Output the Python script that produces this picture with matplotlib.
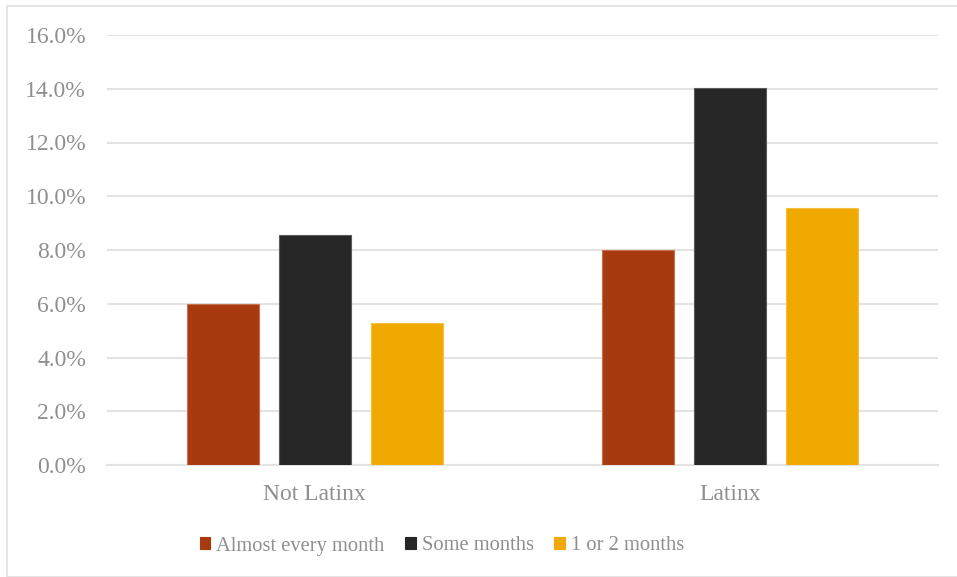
import matplotlib.pyplot as plt
import numpy as np
from matplotlib.patches import Rectangle

groups = ["Not Latinx", "Latinx"]
series = ["Almost every month", "Some months", "1 or 2 months"]
almost_every_month = [6.0, 8.0]
some_months = [8.57, 14.03]
one_or_two_months = [5.3, 9.56]

colors = ["#A83A0F", "#262626", "#F0A900"]
edge_colors = ["#C8704F", "#5A5A5A", "#F5C040"]
text_gray = "#8F8F8F"
grid_gray = "#E3E3E3"

plt.rcParams['font.family'] = ['Liberation Serif', 'DejaVu Serif']

fig = plt.figure(figsize=(9.57, 5.77), dpi=100)
ax = fig.add_axes([107 / 957, 112 / 577, 831 / 957, 430 / 577])

x = np.arange(len(groups))
width = 0.173
offset = 0.221
values = [almost_every_month, some_months, one_or_two_months]
for i, vals in enumerate(values):
    ax.bar(x + (i - 1) * offset, vals, width, color=colors[i],
           edgecolor=edge_colors[i], linewidth=0.8, label=series[i], zorder=3)

ax.set_xlim(-0.5, 1.5)
ax.set_ylim(0, 16)
ax.set_yticks(np.arange(0, 16.1, 2))
ax.set_yticklabels([f"{v:.1f}%" for v in np.arange(0, 16.1, 2)])
ax.set_xticks(x)
ax.set_xticklabels(groups)
ax.tick_params(axis='both', length=0, labelsize=17, colors=text_gray)
ax.tick_params(axis='y', pad=15)
ax.tick_params(axis='x', pad=14)
ax.grid(True, axis='y', color=grid_gray, linewidth=1.5, zorder=0)
ax.set_axisbelow(True)
for side in ["top", "right", "left"]:
    ax.spines[side].set_visible(False)
ax.spines["bottom"].set_color(grid_gray)
ax.spines["bottom"].set_linewidth(1.5)

leg = fig.legend(loc="center", bbox_to_anchor=(442 / 957, 1 - 546 / 577), ncol=3,
                 frameon=False, fontsize=14.8, handlelength=0.5, handleheight=0.5,
                 handletextpad=0.3, columnspacing=1.0)
for t in leg.get_texts():
    t.set_color(text_gray)
for h, c in zip(leg.legend_handles, colors):
    h.set_edgecolor(c)

fig.patches.append(Rectangle((7 / 957, 0), 1, 1 - 6 / 577, transform=fig.transFigure,
                             fill=False, edgecolor="#E0E0E0", linewidth=1.2))

fig.savefig("out.png", dpi=100)
